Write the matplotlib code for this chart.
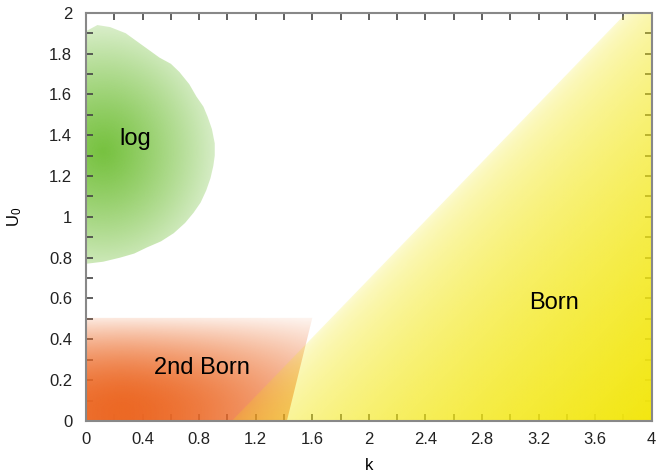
import numpy as np
import matplotlib
matplotlib.use("Agg")
import matplotlib.pyplot as plt
from matplotlib.patches import Polygon
from matplotlib.ticker import MultipleLocator

plt.rcParams['font.family'] = ['Liberation Sans', 'DejaVu Sans']
plt.rcParams['mathtext.fontset'] = 'custom'
plt.rcParams['mathtext.rm'] = 'Liberation Sans'
plt.rcParams['mathtext.it'] = 'Liberation Sans'

# region outlines (k, U0)
log_k = [0.0, 0.08, 0.17, 0.28, 0.38, 0.46, 0.52, 0.60, 0.66, 0.73, 0.78, 0.83, 0.86,
         0.89, 0.91, 0.91, 0.90, 0.88, 0.85, 0.81, 0.76, 0.70, 0.62, 0.53, 0.43, 0.34,
         0.24, 0.12, 0.0]
log_u = [1.91, 1.94, 1.93, 1.90, 1.85, 1.81, 1.78, 1.75, 1.71, 1.65, 1.59, 1.54, 1.49,
         1.43, 1.36, 1.30, 1.25, 1.19, 1.13, 1.07, 1.02, 0.97, 0.92, 0.88, 0.85, 0.82,
         0.80, 0.78, 0.77]
born2_k = [0.0, 1.42, 1.60, 0.0]
born2_u = [0.0, 0.0, 0.505, 0.505]
born_k = [1.03, 3.82, 4.0, 4.0]
born_u = [0.0, 2.0, 2.0, 0.0]

labels = ['log', '2nd Born', 'Born']
label_k = [0.35, 0.82, 3.31]
label_u = [1.38, 0.26, 0.58]

x_ticks = [0, 0.4, 0.8, 1.2, 1.6, 2, 2.4, 2.8, 3.2, 3.6, 4]
y_ticks = [0, 0.2, 0.4, 0.6, 0.8, 1, 1.2, 1.4, 1.6, 1.8, 2]

fig = plt.figure(figsize=(6.57, 4.74), dpi=100)
ax = fig.add_axes([0.131, 0.112, 0.861, 0.861])
ax.set_xlim(0, 4)
ax.set_ylim(0, 2)

X, Y = np.meshgrid(np.linspace(0, 4, 800), np.linspace(0, 2, 400))


def gradient(color, alpha, poly_k, poly_u, z):
    img = np.zeros(X.shape + (4,))
    img[..., :3] = np.array(color) / 255.0
    img[..., 3] = np.clip(alpha, 0, 1)
    im = ax.imshow(img, extent=(0, 4, 0, 2), origin='lower', aspect='auto',
                   interpolation='bilinear', zorder=z)
    patch = Polygon(np.column_stack([poly_k, poly_u]), closed=True,
                    transform=ax.transData)
    im.set_clip_path(patch)


# log region: green radial fade
r = np.sqrt(((X - 0.12) / 1.0) ** 2 + ((Y - 1.32) / 0.76) ** 2)
gradient((115, 192, 58), 0.9 * (1 - r ** 1.2) + 0.07, log_k, log_u, 1)

# 2nd Born: orange fade towards top and right
fy = 1 - 0.85 * np.clip((Y - 0.05) / 0.45, 0, 1) ** 2
fx = 1 - 0.5 * np.clip(np.abs(X - 0.25) / 1.3, 0, 1) ** 1.6
gradient((236, 104, 36), fx * fy, born2_k, born2_u, 2)

# Born: yellow fade away from left edge (measured in screen units)
sx, sy = 141.5, 204.0
ex, ey = (3.82 - 1.03) * sx, 2.0 * sy
dist = (X - 1.03) * sx * ey - Y * sy * ex
t = np.clip(dist / ((4.0 - 1.03) * sx * ey), 0, 1)
gradient((243, 231, 16), 0.16 + 0.84 * t ** 0.55, born_k, born_u, 3)

for s, kx, uy in zip(labels, label_k, label_u):
    ax.text(kx, uy, s, fontsize=17, ha='center', va='center', zorder=5)

ax.set_xticks(x_ticks)
ax.set_xticklabels([f'{v:g}' for v in x_ticks])
ax.set_yticks(y_ticks)
ax.set_yticklabels([f'{v:g}' for v in y_ticks])
ax.xaxis.set_minor_locator(MultipleLocator(0.2))
ax.yaxis.set_minor_locator(MultipleLocator(0.1))
ax.tick_params(which='both', direction='in', top=True, right=True,
               length=5, width=1.2, color='#444444', labelsize=12,
               labelcolor='#222222')
ax.tick_params(axis='x', pad=8)
ax.tick_params(axis='y', pad=10)
for sp in ax.spines.values():
    sp.set_color('#888888')
    sp.set_linewidth(1.5)
    sp.set_zorder(6)

ax.set_xlabel('k', fontsize=12, labelpad=8)
ax.set_ylabel(r'U$_\mathrm{0}$', fontsize=12, labelpad=18)

fig.savefig('out.png', dpi=100)
